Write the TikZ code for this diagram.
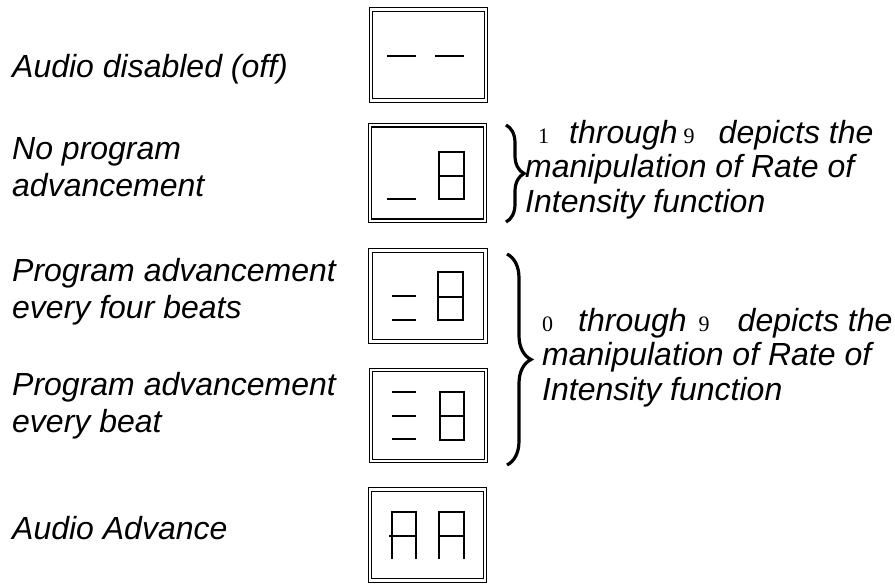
\documentclass[tikz,border=0pt]{standalone}
\usepackage{fontspec}
\setsansfont{Liberation Sans}
\newfontfamily\digitfont{Liberation Serif}
\usetikzlibrary{decorations.pathreplacing}

% serif digits inside the italic notes
\newcommand{\dig}[1]{{\digitfont\upshape\fontsize{22}{22}\selectfont #1}}

\begin{document}
\begin{tikzpicture}[x=1pt, y=-1pt,
    modetext/.style={anchor=base west, align=left, inner sep=0pt,
        font=\sffamily\itshape\fontsize{32}{36.5}\selectfont},
    notetext/.style={anchor=base west, align=left, inner sep=0pt,
        font=\sffamily\itshape\fontsize{32}{34.5}\selectfont},
    display/.style={draw, double, double distance=2.2pt, line width=1.2pt,
        minimum width=115pt, minimum height=91pt, inner sep=0pt},
    seg/.style={line width=1.6pt},
    bracket/.style={decorate, decoration={brace, amplitude=#1}, line width=3.2pt}]

    \useasboundingbox (0,0) rectangle (895,584);

    % Mode names (base = last line)
    \node[modetext] (off)   at (12,77)  {Audio disabled (off)};
    \node[modetext] (noadv) at (12,196) {No program\\advancement};
    \node[modetext] (four)  at (12,318) {Program advancement\\every four beats};
    \node[modetext] (every) at (12,432) {Program advancement\\every beat};
    \node[modetext] (adv)   at (12,539) {Audio Advance};

    % Displays
    \node[display] (d-off)   at (428.5,55)  {};
    \node[display, minimum height=95.5pt] (d-noadv) at (427.5,173) {};
    \node[display] (d-four)  at (428,296)   {};
    \node[display] (d-every) at (428.5,415.5) {};
    \node[display] (d-adv)   at (427.5,535) {};

    % Display segments: off
    \draw[seg] (387,56) -- (416,56);
    \draw[seg] (435,56) -- (464,56);

    % no advancement
    \draw[seg] (387,199) -- (416,199);
    \draw[seg] (439,152) rectangle (464,199);
    \draw[seg] (439,176) -- (464,176);

    % every four beats
    \foreach \y in {296, 320}
        \draw[seg] (392,\y) -- (416,\y);
    \draw[seg] (438,272) rectangle (463,320);
    \draw[seg] (438,297) -- (463,297);

    % every beat
    \foreach \y in {392, 416, 439}
        \draw[seg] (392,\y) -- (416,\y);
    \draw[seg] (440,392) rectangle (464,440);
    \draw[seg] (440,416) -- (464,416);

    % audio advance
    \draw[seg] (392,559) -- (392,512) -- (416,512) -- (416,559);
    \draw[seg] (389,536) -- (416,536);
    \draw[seg] (439,559) -- (439,512) -- (464,512) -- (464,559);
    \draw[seg] (439,536) -- (464,536);

    % Braces and notes
    \coordinate (b1-top) at (506,125);
    \coordinate (b1-bot) at (506,222);
    \coordinate (b2-top) at (507,254);
    \coordinate (b2-bot) at (507,465);
    \draw[bracket=18pt] (b1-top) -- (b1-bot);
    \draw[bracket=24pt] (b2-top) -- (b2-bot);

    \node[notetext] (note1) at (525,212)
        {\hspace*{13pt}\dig{1}\hspace{20pt}through\hspace{6pt}\dig{9}\hspace{24pt}depicts the\\
         manipulation of Rate of\\Intensity function};
    \node[notetext] (note2) at (542,400)
        {\dig{0}\hspace{25pt}through\hspace{12pt}\dig{9}\hspace{28pt}depicts the\\
         manipulation of Rate of\\Intensity function};

\end{tikzpicture}
\end{document}
